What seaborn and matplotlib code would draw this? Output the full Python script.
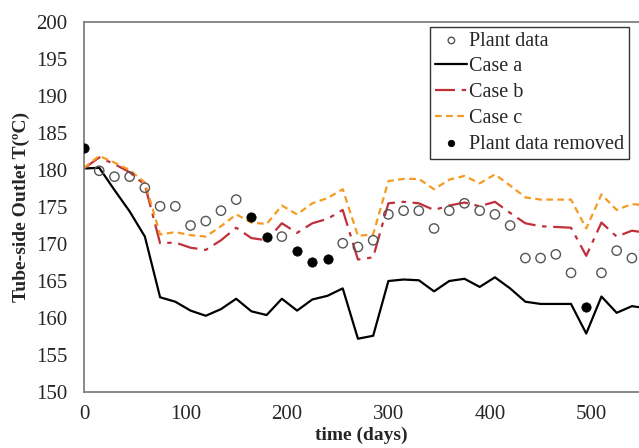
import numpy as np
import pandas as pd
import matplotlib
matplotlib.use("Agg")
import matplotlib.pyplot as plt
import seaborn as sns

days = list(range(0, 556, 15))
case_a = [180.2, 180.3, 177.3, 174.4, 171.0, 162.8, 162.2, 161.0, 160.3, 161.2,
          162.6, 160.9, 160.4, 162.6, 161.0, 162.5, 163.0, 164.0, 157.2, 157.6,
          165.0, 165.2, 165.1, 163.6, 165.0, 165.3, 164.2, 165.5, 164.0, 162.2,
          161.9, 161.9, 161.9, 157.9, 162.9, 160.7, 161.6, 161.3]
case_b = [180.2, 181.7, 180.8, 179.7, 178.0, 170.1, 170.2, 169.5, 169.2, 170.5,
          172.2, 170.8, 170.5, 172.8, 171.5, 172.8, 173.4, 174.6, 167.9, 168.2,
          175.5, 175.7, 175.5, 174.6, 175.2, 175.6, 175.1, 175.7, 174.2, 172.8,
          172.4, 172.3, 172.2, 168.4, 172.9, 171.0, 171.8, 171.5]
case_c = [180.3, 181.9, 181.0, 180.0, 178.3, 171.3, 171.6, 171.2, 171.0, 172.4,
          174.0, 172.9, 172.7, 175.2, 174.0, 175.5, 176.2, 177.4, 171.1, 171.3,
          178.5, 178.8, 178.8, 177.4, 178.7, 179.2, 178.2, 179.4, 177.9, 176.3,
          176.0, 176.0, 176.0, 172.1, 176.7, 174.6, 175.4, 175.2]

plant_days = [15, 30, 45, 60, 75, 90, 105, 120, 135, 150, 195, 255, 270, 285,
              300, 315, 330, 345, 360, 375, 390, 405, 420, 435, 450, 465, 480,
              510, 525, 540]
plant_vals = [179.9, 179.1, 179.1, 177.6, 175.1, 175.1, 172.5, 173.1, 174.5, 176.0,
              171.0, 170.1, 169.6, 170.5, 174.0, 174.5, 174.5, 172.1, 174.5, 175.5,
              174.5, 174.0, 172.5, 168.1, 168.1, 168.6, 166.1, 166.1, 169.1, 168.1]

removed_days = [0, 165, 180, 210, 225, 240, 495]
removed_vals = [183.0, 173.6, 171.0, 169.0, 167.6, 168.0, 161.5]

x_ticks = [0, 100, 200, 300, 400, 500]
y_ticks = [150, 155, 160, 165, 170, 175, 180, 185, 190, 195, 200]

sns.set_style("white")
plt.rcParams['font.family'] = ['Liberation Serif', 'DejaVu Serif']

fig = plt.figure(figsize=(6.39, 4.48), dpi=100)
ax = fig.add_axes([84/639, 56/448, (639-84)/639, 370/448])

plant = pd.DataFrame({"day": plant_days, "T": plant_vals})
removed = pd.DataFrame({"day": removed_days, "T": removed_vals})
model = pd.DataFrame({"day": days, "a": case_a, "b": case_b, "c": case_c})

sns.scatterplot(data=plant, x="day", y="T", ax=ax, marker="o", s=45,
                facecolor="none", edgecolor="#555555", linewidth=1.0,
                label="Plant data", zorder=5)
sns.lineplot(data=model, x="day", y="a", ax=ax, color="black", lw=1.6,
             label="Case a")
sns.lineplot(data=model, x="day", y="b", ax=ax, color="#C0303A", lw=1.6,
             label="Case b")
ax.lines[-1].set_dashes([9, 3, 2, 3])
sns.lineplot(data=model, x="day", y="c", ax=ax, color="#F59A23", lw=1.6,
             label="Case c")
ax.lines[-1].set_dashes([3, 2])
sns.scatterplot(data=removed, x="day", y="T", ax=ax, marker="o", s=45,
                color="black", edgecolor="black", label="Plant data removed",
                zorder=6)

ax.set_xlim(0, 547)
ax.set_ylim(150, 200)
ax.set_xticks(x_ticks)
ax.set_yticks(y_ticks)
ax.tick_params(direction="in", length=5, width=1, color="#808080",
               labelsize=15)
ax.tick_params(axis="y", pad=12)
ax.tick_params(axis="x", pad=9)
for s in ["left", "bottom", "top"]:
    ax.spines[s].set_color("#808080")
    ax.spines[s].set_linewidth(1.3)
ax.spines["right"].set_visible(False)

ax.set_xlabel("time (days)", fontsize=14, fontweight="bold", labelpad=2)
ax.set_ylabel("Tube-side Outlet T(ºC)", fontsize=14, fontweight="bold",
              labelpad=4)

leg = ax.legend(loc="upper right", bbox_to_anchor=(0.985, 0.993), fontsize=14.5,
                frameon=True, fancybox=False, edgecolor="black",
                handlelength=1.6, handletextpad=0.05, borderpad=0.25,
                labelspacing=0.33, borderaxespad=0.1, markerscale=0.7)
leg.get_frame().set_linewidth(1.0)

fig.savefig("out.png", dpi=100)
